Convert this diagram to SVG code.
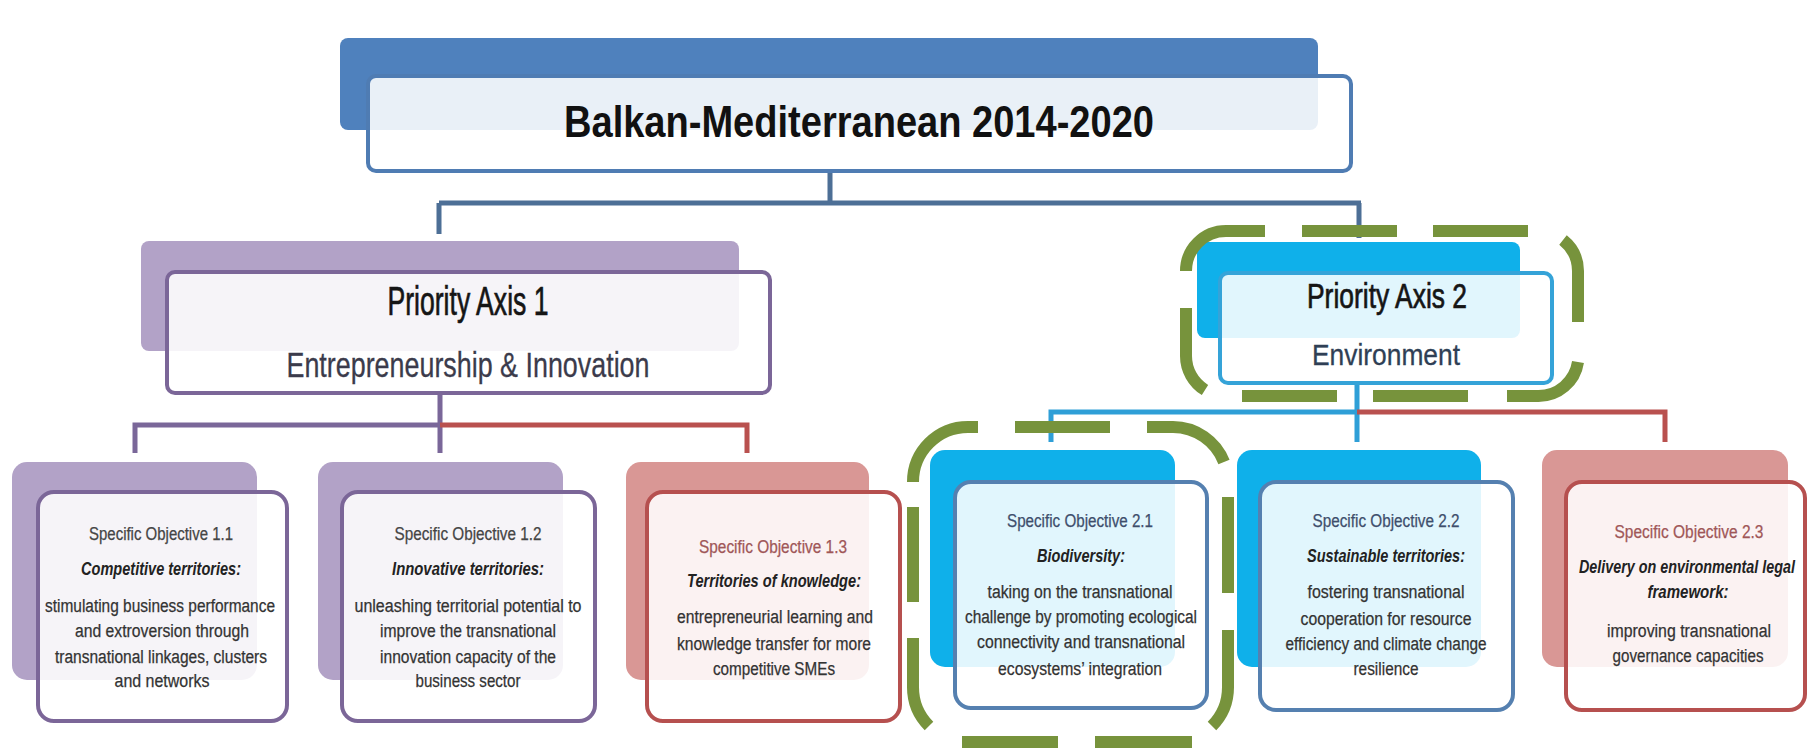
<svg xmlns="http://www.w3.org/2000/svg" width="1810" height="748" viewBox="0 0 1810 748">
<defs>
<style>
text{font-family:"Liberation Sans",Arial,sans-serif;text-anchor:middle}
.title{font-size:45px;font-weight:bold;fill:#111}
.pa{font-size:40px;fill:#151515;stroke:#151515;stroke-width:0.7}
.pas{font-size:35px;fill:#3b3b4b;stroke:#3b3b4b;stroke-width:0.3}
.pa2{font-size:35px;fill:#151515;stroke:#151515;stroke-width:0.7}
.pa2s{font-size:30px;fill:#2f3f55;stroke:#2f3f55;stroke-width:0.3}
.h{font-size:18px;fill:#454545;stroke:#454545;stroke-width:0.25}
.hb{font-size:18px;fill:#3e4e6c;stroke:#3e4e6c;stroke-width:0.25}
.hr{font-size:18px;fill:#a05758;stroke:#a05758;stroke-width:0.25}
.it{font-size:18px;font-weight:bold;font-style:italic;fill:#222}
.b{font-size:18px;fill:#333;stroke:#333;stroke-width:0.25}
.front{fill:#fff;fill-opacity:0.88;stroke-width:4}
.bk-blue{fill:#4f81bd}
.bk-purple{fill:#b2a2c7}
.bk-red{fill:#d99795}
.bk-cyan{fill:#0fb0ea}
.st-blue{stroke:#4f7cb3}
.st-purple{stroke:#7b6698}
.st-red{stroke:#b6504f}
.st-steel{stroke:#5580b0}
.st-cyan{stroke:#35a3d8}
.con{fill:none;stroke-width:5}
.hl{fill:none;stroke:#77933c;stroke-width:12;stroke-linecap:butt}
</style>
</defs>
<rect width="1810" height="748" fill="#ffffff"/>

<g id="connectors">
<path class="con" d="M830,172 V203 M439,203 H1361 M439,203 V234 M1359,203 V238" stroke="#4d6f96" stroke-width="4"/>
<path class="con" d="M440,393 V453 M135,453 V425 H440" stroke="#7a6799"/>
<path class="con" d="M440,425 H747 V453" stroke="#b9514f"/>
<path class="con" d="M1357,383 V442 M1051,442 V412 H1357" stroke="#2f9fd7"/>
<path class="con" d="M1357,412 H1665 V442" stroke="#b9514f"/>
</g>

<g id="node-program">
<rect class="bk-blue" x="340" y="38" width="978" height="92" rx="8"/>
<rect class="front st-blue" x="368" y="76" width="983" height="95" rx="8" stroke-width="3.5"/>
<text class="title" x="859" y="137" textLength="590" lengthAdjust="spacingAndGlyphs">Balkan-Mediterranean 2014-2020</text>
</g>

<g id="node-pa1">
<rect class="bk-purple" x="141" y="241" width="598" height="110" rx="8"/>
<rect class="front st-purple" x="167" y="272" width="603" height="121" rx="8"/>
<text class="pa" x="468" y="315" textLength="161" lengthAdjust="spacingAndGlyphs">Priority Axis 1</text>
<text class="pas" x="468" y="377" textLength="363" lengthAdjust="spacingAndGlyphs">Entrepreneurship &amp; Innovation</text>
</g>

<g id="node-pa2">
<rect class="bk-cyan" x="1197" y="242" width="323" height="96" rx="8"/>
<rect class="front st-cyan" x="1220" y="273" width="332" height="110" rx="8"/>
<text class="pa2" x="1387" y="308" textLength="160" lengthAdjust="spacingAndGlyphs">Priority Axis 2</text>
<text class="pa2s" x="1386" y="365" textLength="148" lengthAdjust="spacingAndGlyphs">Environment</text>
</g>

<g id="node-so11">
<rect class="bk-purple" x="12" y="462" width="245" height="218" rx="15"/>
<rect class="front st-purple" x="38" y="492" width="249" height="229" rx="16"/>
<text class="h" x="161" y="540" textLength="144" lengthAdjust="spacingAndGlyphs">Specific Objective 1.1</text>
<text class="it" x="161" y="575" textLength="160" lengthAdjust="spacingAndGlyphs">Competitive territories:</text>
<text class="b" x="160" y="612" textLength="230" lengthAdjust="spacingAndGlyphs">stimulating business performance</text>
<text class="b" x="162" y="637" textLength="174" lengthAdjust="spacingAndGlyphs">and extroversion through</text>
<text class="b" x="161" y="663" textLength="212" lengthAdjust="spacingAndGlyphs">transnational linkages, clusters</text>
<text class="b" x="162" y="687" textLength="95" lengthAdjust="spacingAndGlyphs">and networks</text>
</g>

<g id="node-so12">
<rect class="bk-purple" x="318" y="462" width="245" height="218" rx="15"/>
<rect class="front st-purple" x="342" y="492" width="253" height="229" rx="16"/>
<text class="h" x="468" y="540" textLength="147" lengthAdjust="spacingAndGlyphs">Specific Objective 1.2</text>
<text class="it" x="468" y="575" textLength="152" lengthAdjust="spacingAndGlyphs">Innovative territories:</text>
<text class="b" x="468" y="612" textLength="227" lengthAdjust="spacingAndGlyphs">unleashing territorial potential to</text>
<text class="b" x="468" y="637" textLength="176" lengthAdjust="spacingAndGlyphs">improve the transnational</text>
<text class="b" x="468" y="663" textLength="176" lengthAdjust="spacingAndGlyphs">innovation capacity of the</text>
<text class="b" x="468" y="687" textLength="105" lengthAdjust="spacingAndGlyphs">business sector</text>
</g>

<g id="node-so13">
<rect class="bk-red" x="626" y="462" width="243" height="218" rx="15"/>
<rect class="front st-red" x="647" y="492" width="253" height="229" rx="16"/>
<text class="hr" x="773" y="553" textLength="148" lengthAdjust="spacingAndGlyphs">Specific Objective 1.3</text>
<text class="it" x="774" y="587" textLength="174" lengthAdjust="spacingAndGlyphs">Territories of knowledge:</text>
<text class="b" x="775" y="623" textLength="196" lengthAdjust="spacingAndGlyphs">entrepreneurial learning and</text>
<text class="b" x="774" y="650" textLength="194" lengthAdjust="spacingAndGlyphs">knowledge transfer for more</text>
<text class="b" x="774" y="675" textLength="122" lengthAdjust="spacingAndGlyphs">competitive SMEs</text>
</g>

<g id="node-so21">
<rect class="bk-cyan" x="930" y="450" width="245" height="217" rx="15"/>
<rect class="front st-steel" x="955" y="482" width="252" height="226" rx="16"/>
<text class="hb" x="1080" y="527" textLength="146" lengthAdjust="spacingAndGlyphs">Specific Objective 2.1</text>
<text class="it" x="1081" y="562" textLength="88" lengthAdjust="spacingAndGlyphs">Biodiversity:</text>
<text class="b" x="1080" y="598" textLength="185" lengthAdjust="spacingAndGlyphs">taking on the transnational</text>
<text class="b" x="1081" y="623" textLength="232" lengthAdjust="spacingAndGlyphs">challenge by promoting ecological</text>
<text class="b" x="1081" y="648" textLength="208" lengthAdjust="spacingAndGlyphs">connectivity and transnational</text>
<text class="b" x="1080" y="675" textLength="164" lengthAdjust="spacingAndGlyphs">ecosystems’ integration</text>
</g>

<g id="node-so22">
<rect class="bk-cyan" x="1237" y="450" width="244" height="217" rx="15"/>
<rect class="front st-steel" x="1260" y="482" width="253" height="228" rx="16"/>
<text class="hb" x="1386" y="527" textLength="147" lengthAdjust="spacingAndGlyphs">Specific Objective 2.2</text>
<text class="it" x="1386" y="562" textLength="158" lengthAdjust="spacingAndGlyphs">Sustainable territories:</text>
<text class="b" x="1386" y="598" textLength="157" lengthAdjust="spacingAndGlyphs">fostering transnational</text>
<text class="b" x="1386" y="625" textLength="171" lengthAdjust="spacingAndGlyphs">cooperation for resource</text>
<text class="b" x="1386" y="650" textLength="201" lengthAdjust="spacingAndGlyphs">efficiency and climate change</text>
<text class="b" x="1386" y="675" textLength="65" lengthAdjust="spacingAndGlyphs">resilience</text>
</g>

<g id="node-so23">
<rect class="bk-red" x="1542" y="450" width="246" height="217" rx="15"/>
<rect class="front st-red" x="1566" y="482" width="239" height="228" rx="16"/>
<text class="hr" x="1689" y="538" textLength="149" lengthAdjust="spacingAndGlyphs">Specific Objective 2.3</text>
<text class="it" x="1687" y="573" textLength="216" lengthAdjust="spacingAndGlyphs">Delivery on environmental legal</text>
<text class="it" x="1688" y="598" textLength="81" lengthAdjust="spacingAndGlyphs">framework:</text>
<text class="b" x="1689" y="637" textLength="164" lengthAdjust="spacingAndGlyphs">improving transnational</text>
<text class="b" x="1688" y="662" textLength="151" lengthAdjust="spacingAndGlyphs">governance capacities</text>
</g>

<g id="highlight-pa2">
<path class="hl" d="M1186,271 A40,40 0 0 1 1226,231 H1265 M1302,231 H1397 M1433,231 H1528 M1563,240 A40,40 0 0 1 1578,271 V322 M1578,362 A40,40 0 0 1 1538,396 H1507 M1468,396 H1373 M1337,396 H1242 M1205,390 A40,40 0 0 1 1186,356 V308"/>
</g>
<g id="highlight-so21">
<path class="hl" d="M913,482 A55,55 0 0 1 968,427 H978 M1015,427 H1110 M1147,427 H1173 A55,55 0 0 1 1224,462 M1228,497 V593 M1228,630 V687 A55,55 0 0 1 1212,726 M1192,742 H1095 M1058,742 H962 M929,726 A55,55 0 0 1 913,687 V638 M913,602 V507"/>
</g>
</svg>
